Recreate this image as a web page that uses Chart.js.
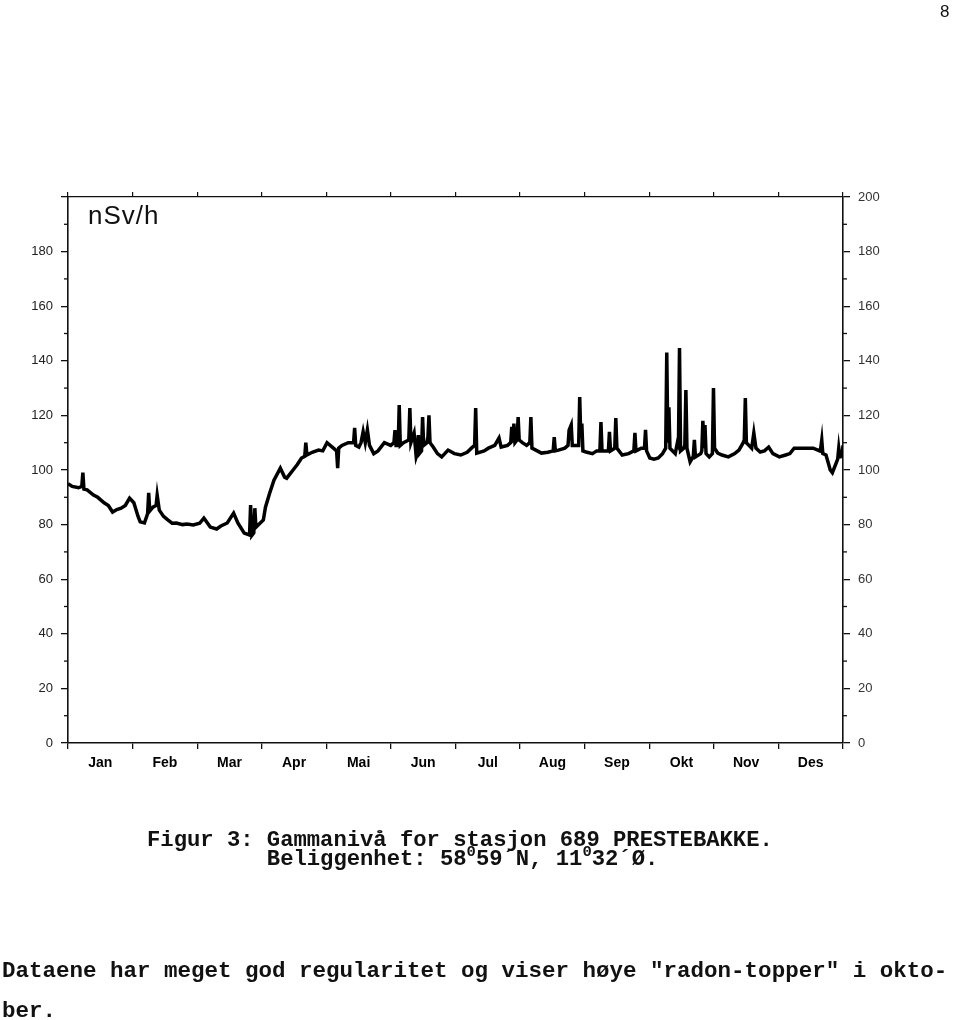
<!DOCTYPE html>
<html>
<head>
<meta charset="utf-8">
<script src="https://cdn.jsdelivr.net/npm/chart.js"></script>
<style>
  body { margin: 0; background: #fff; }
  #page { position: relative; width: 960px; height: 1020px; overflow: hidden; }
  #chart { position: absolute; left: 0; top: 0; }
  .txt { position: absolute; white-space: pre; color: #111; }
  .mono { font-family: "Liberation Mono", "DejaVu Sans Mono", monospace; font-weight: bold; }
  .sup { display: inline-block; width: 1ch; font-size: 0.7em; line-height: 0; vertical-align: 0.55em; text-align: center; }
</style>
</head>
<body>
<div id="page">
  <canvas id="chart" width="960" height="1020"></canvas>
  <div class="txt" style="left:940px; top:2px; font:17px 'Liberation Sans', Arial, sans-serif;">8</div>
  <div class="txt" style="left:88px; top:200px; font:26px 'Liberation Sans', Arial, sans-serif; letter-spacing:1px;">nSv/h</div>
  <div class="txt mono" style="left:147px; top:830px; font-size:22.2px; line-height:22px;">Figur 3: Gammanivå for stasjon 689 PRESTEBAKKE.</div>
  <div class="txt mono" style="left:147px; top:849px; font-size:22.2px; line-height:22px;">         Beliggenhet: 58<span class="sup">0</span>59´N, 11<span class="sup">0</span>32´Ø.</div>
  <div class="txt mono" style="left:2px; top:959px; font-size:22.5px; line-height:24px;">Dataene har meget god regularitet og viser høye "radon-topper" i okto-</div>
  <div class="txt mono" style="left:2px; top:999px; font-size:22.5px; line-height:24px;">ber.</div>
</div>
<script>
const months = ['Jan', 'Feb', 'Mar', 'Apr', 'Mai', 'Jun', 'Jul', 'Aug', 'Sep', 'Okt', 'Nov', 'Des'];

// day of year (months taken as 365/12 days each) and gamma level in nSv/h
const days = [
  0, 2, 5, 6.5, 7, 7.5, 9, 12, 14, 17,
  19, 21, 23, 25, 27, 29, 31, 33, 34, 36,
  37.5, 38, 38.5, 40, 41.5, 42, 43, 45, 47, 49,
  51, 54, 56, 59, 62, 64, 67, 70, 72, 75,
  78, 80, 83, 85.5, 86, 86.5, 87.5, 88, 88.5, 92,
  93, 95, 97, 100, 102, 103, 106, 108, 110, 111.5,
  112, 112.5, 115, 118, 120, 122, 125, 126.5, 127, 127.5,
  129, 132, 134.5, 135, 135.5, 137, 138, 139, 140, 141,
  142, 144, 146, 149, 152, 153.5, 154, 154.5, 155.5, 156,
  156.5, 158, 160.5, 161, 161.5, 163, 164, 164.5, 165, 165.5,
  166.5, 167, 167.5, 169, 169.5, 170, 170.5, 172, 174, 176,
  179, 182, 185, 188, 190, 191.5, 192, 192.5, 196, 198,
  201, 203, 204, 207, 208.5, 209, 209.5, 210, 210.5, 211.5,
  212, 212.5, 214, 216, 217.5, 218, 218.5, 221, 223, 226,
  228.5, 229, 229.5, 231, 234, 235.5, 236, 237, 237.5, 240.5,
  241, 241.5, 242, 242.5, 244, 247, 249, 250.5, 251, 251.5,
  254, 254.5, 255, 255.5, 257.5, 258, 258.5, 261, 264, 266.5,
  267, 267.5, 270, 271.5, 272, 272.5, 274, 276, 278, 280,
  281.5, 282, 282.5, 283, 283.5, 286, 287, 287.5, 288, 288.5,
  290, 290.5, 291, 291.5, 293, 294.5, 295, 295.5, 298, 298.5,
  299, 299.5, 300, 300.5, 302, 303.5, 304, 304.5, 306, 308,
  311, 314, 316, 318, 318.5, 319, 319.5, 322, 323, 324,
  326, 328, 330, 332, 335, 338, 340, 342, 346, 351,
  354, 354.5, 355, 355.5, 357, 359, 360, 362, 362.5, 363,
  363.5, 364.5, 365
];
const gamma = [
  95, 94, 93.5, 94, 99, 93, 92.7, 90.8, 90, 88,
  87, 84.6, 85.5, 86, 87, 89.7, 88, 83, 81, 80.6,
  84, 91.6, 85, 86.4, 87, 90.8, 85.3, 83, 81.7, 80.5,
  80.6, 80, 80.2, 79.9, 80.5, 82.4, 79.1, 78.4, 79.5, 80.6,
  84.2, 80.6, 76.9, 76.2, 87.2, 76, 77, 86, 79, 81.7,
  86.4, 91.6, 96.3, 100.7, 97.4, 97, 100, 102, 104.4, 105,
  110, 105.5, 106.5, 107.3, 107, 110, 108, 107, 100.7, 108,
  109, 110, 110, 115.4, 109, 108.4, 110, 114, 110, 114.7,
  109, 106, 107, 110, 109, 110, 114.6, 109, 109, 123.8,
  109, 110, 111, 122.7, 110, 113.5, 104.8, 106, 112.8, 106,
  107, 119.4, 109, 110, 112, 120, 110, 108.4, 106, 104.8,
  107.3, 106, 105.5, 106.5, 108, 109, 122.7, 106.2, 107, 108,
  109, 111.7, 108.4, 109, 110, 115.8, 110, 117, 110, 111,
  119.4, 111, 110, 109, 110, 119.4, 108, 107, 106.2, 106.5,
  107, 112, 107, 107.3, 108, 109, 114.6, 116.5, 109, 109,
  126.7, 112, 117, 107, 106.6, 106, 107, 107, 117.6, 107,
  107, 107, 114, 107, 108, 119, 108, 105.5, 106, 107,
  113.6, 107, 108, 108, 114.7, 107, 104.4, 104, 104.4, 106,
  108, 143, 110, 123, 108, 106, 110, 109, 144.7, 107,
  108, 109, 129.3, 108, 103, 105, 111, 104.8, 106, 107,
  118, 108, 116.5, 106, 104.8, 106, 130, 108, 106.2, 105.5,
  104.8, 106, 107.3, 110, 111, 126.4, 110, 108, 113.6, 108,
  106.6, 107, 108.4, 106, 104.8, 105.5, 106, 108, 108, 108,
  107, 108, 111, 106, 105.5, 100, 99, 103, 104, 108,
  104.8, 105, 109
];

const yearDays = 365;
const monthLen = yearDays / 12;
const monthEdges = months.map((m, i) => i * monthLen).concat([yearDays]);
const monthMids = months.map((m, i) => (i + 0.5) * monthLen);
const yMax = 200;
const yStep = 20;

const ink = '#111';
const tickFont = { family: "'Liberation Sans', Arial, sans-serif", size: 13 };

const minorTicks = {
  id: 'minorTicks',
  afterDraw(chart) {
    const ctx = chart.ctx;
    ctx.save();
    ctx.strokeStyle = ink;
    ctx.lineWidth = 1.3;
    ['y', 'y2'].forEach(id => {
      const s = chart.scales[id];
      const x0 = id === 'y' ? s.right : s.left;
      const dir = id === 'y' ? -1 : 1;
      for (let v = yStep / 2; v < yMax; v += yStep) {
        const py = s.getPixelForValue(v);
        ctx.beginPath();
        ctx.moveTo(x0, py);
        ctx.lineTo(x0 + dir * 4, py);
        ctx.stroke();
      }
    });
    ctx.restore();
  }
};

new Chart(document.getElementById('chart'), {
  type: 'line',
  data: {
    datasets: [{
      data: days.map((d, i) => ({ x: d, y: gamma[i] })),
      xAxisID: 'x',
      yAxisID: 'y',
      borderColor: '#000',
      borderWidth: 3.5,
      borderJoinStyle: 'miter',
      pointRadius: 0,
      tension: 0
    }]
  },
  options: {
    responsive: false,
    animation: false,
    layout: { padding: 0 },
    plugins: { legend: { display: false }, tooltip: { enabled: false } },
    scales: {
      x: {
        type: 'linear', position: 'bottom', min: 0, max: yearDays,
        afterBuildTicks: s => { s.ticks = monthMids.map(v => ({ value: v })); },
        afterFit: s => { s.height = 277; },
        grid: { offset: true, drawOnChartArea: false, tickLength: 6, color: ink, lineWidth: 1.3 },
        border: { color: ink, width: 1.6 },
        ticks: {
          autoSkip: false, maxRotation: 0, padding: 6, color: '#000',
          font: { family: "'Liberation Sans', Arial, sans-serif", size: 14, weight: 'bold' },
          callback: (v, i) => months[i]
        }
      },
      xTop: {
        type: 'linear', position: 'top', min: 0, max: yearDays,
        afterBuildTicks: s => { s.ticks = monthEdges.map(v => ({ value: v })); },
        afterFit: s => { s.height = 197; },
        grid: { drawOnChartArea: false, tickLength: 5, color: ink, lineWidth: 1.2 },
        border: { color: ink, width: 1.3 },
        ticks: { callback: () => '' }
      },
      y: {
        position: 'left', min: 0, max: yMax,
        afterFit: s => { s.width = 68; },
        grid: { drawOnChartArea: false, tickLength: 7, color: ink, lineWidth: 1.3 },
        border: { color: ink, width: 1.6 },
        ticks: {
          stepSize: yStep, padding: 8, color: '#222', font: tickFont,
          callback: v => (v === yMax ? '' : v)
        }
      },
      y2: {
        position: 'right', min: 0, max: yMax,
        afterFit: s => { s.width = 960 - 843; },
        grid: { drawOnChartArea: false, tickLength: 7, color: ink, lineWidth: 1.3 },
        border: { color: ink, width: 1.6 },
        ticks: { stepSize: yStep, padding: 8, color: '#333', font: tickFont }
      }
    }
  },
  plugins: [minorTicks]
});
</script>
</body>
</html>
